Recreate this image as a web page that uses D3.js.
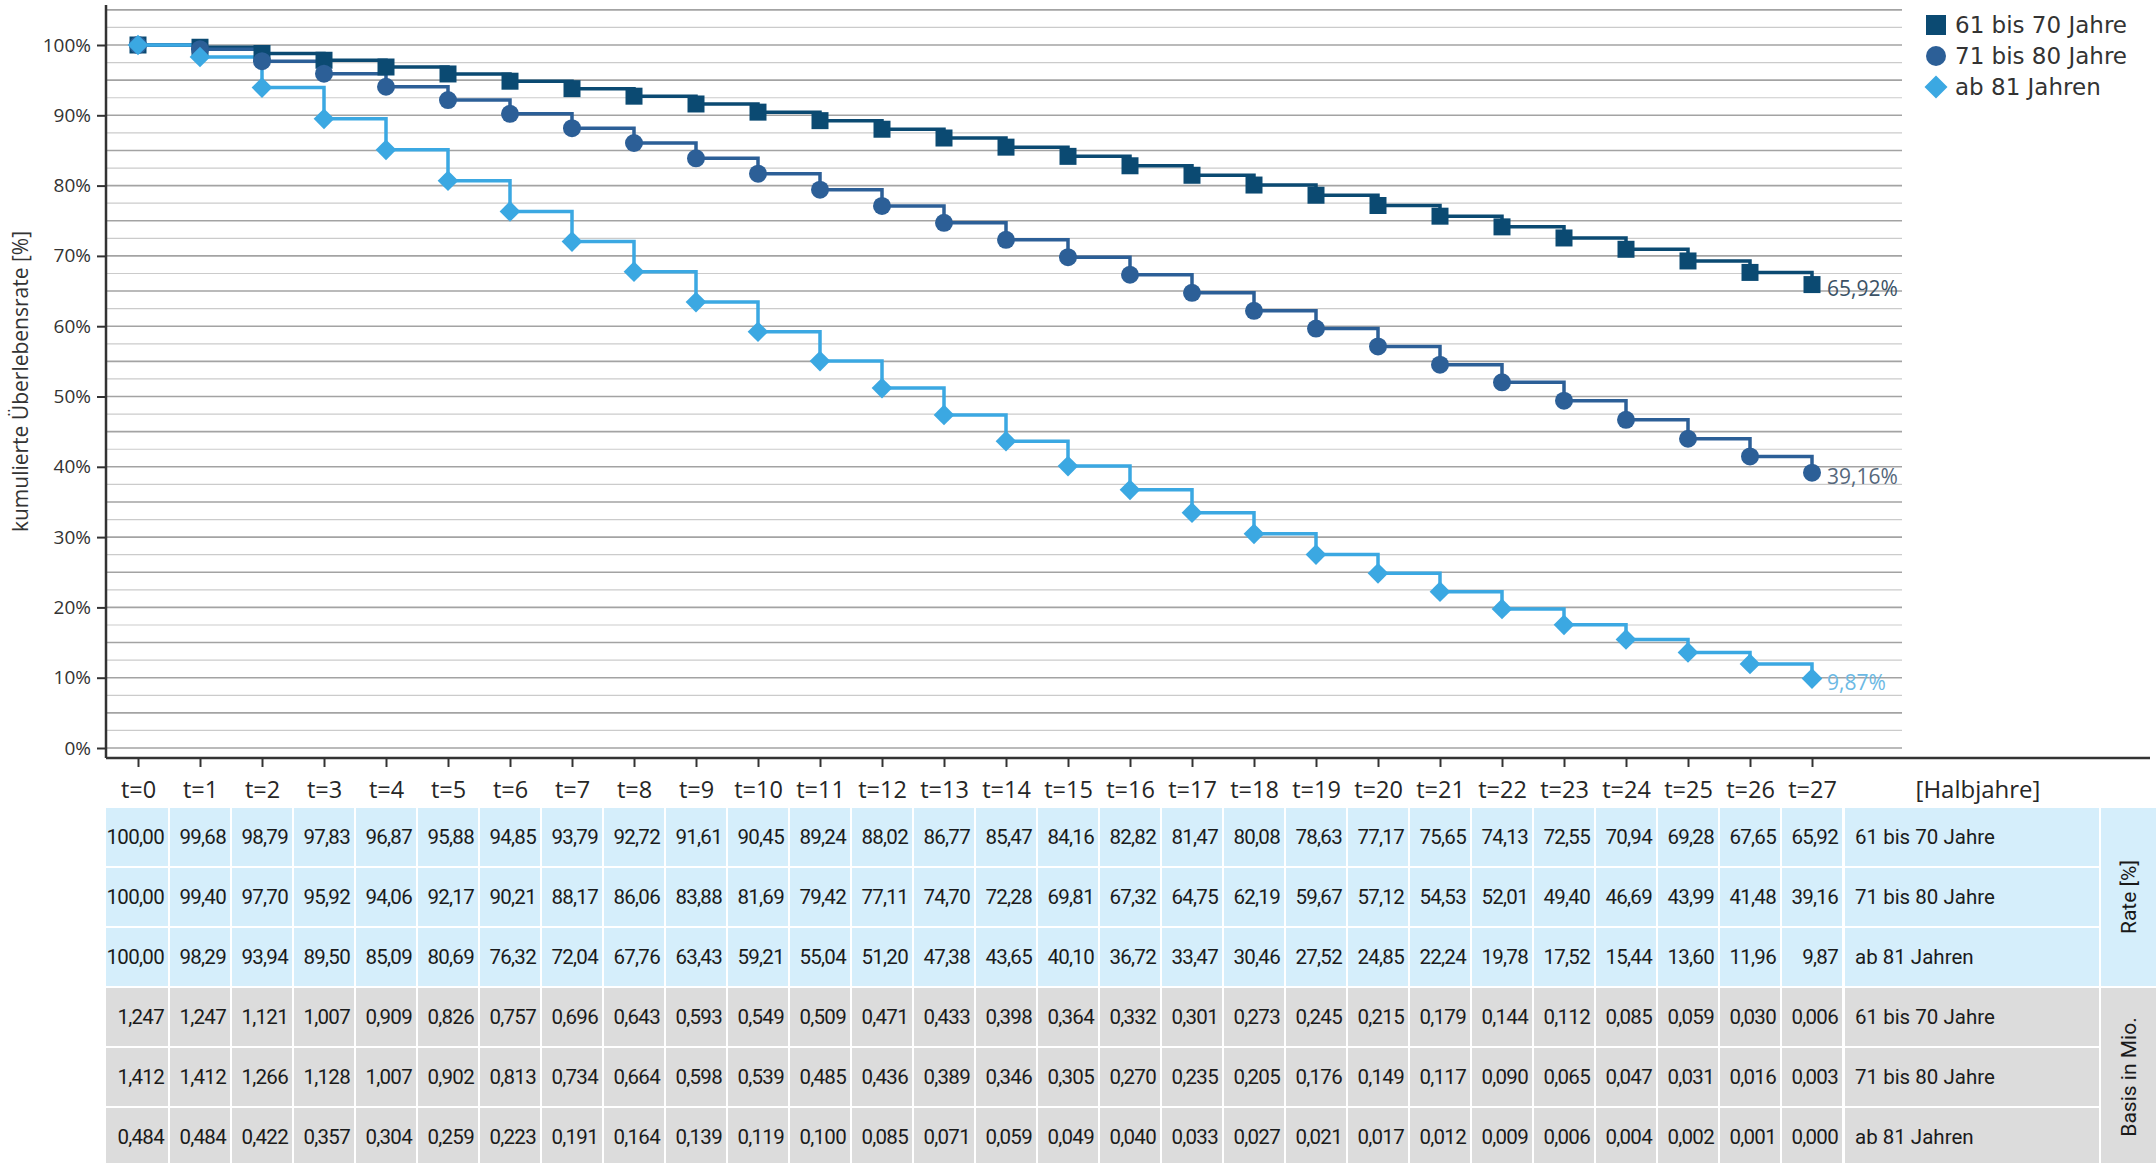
<!DOCTYPE html>
<html><head><meta charset="utf-8">
<script src="https://cdn.jsdelivr.net/npm/d3@7"></script>
<style>
html,body{margin:0;padding:0;background:#fff;}
svg{display:block;}
</style></head>
<body>
<script>
// ---------- DATA ----------
const tLabels = d3.range(0, 28).map(i => "t=" + i);
const seriesNames = ["61 bis 70 Jahre", "71 bis 80 Jahre", "ab 81 Jahren"];
const rate61 = [100.00,99.68,98.79,97.83,96.87,95.88,94.85,93.79,92.72,91.61,90.45,89.24,88.02,86.77,85.47,84.16,82.82,81.47,80.08,78.63,77.17,75.65,74.13,72.55,70.94,69.28,67.65,65.92];
const rate71 = [100.00,99.40,97.70,95.92,94.06,92.17,90.21,88.17,86.06,83.88,81.69,79.42,77.11,74.70,72.28,69.81,67.32,64.75,62.19,59.67,57.12,54.53,52.01,49.40,46.69,43.99,41.48,39.16];
const rate81 = [100.00,98.29,93.94,89.50,85.09,80.69,76.32,72.04,67.76,63.43,59.21,55.04,51.20,47.38,43.65,40.10,36.72,33.47,30.46,27.52,24.85,22.24,19.78,17.52,15.44,13.60,11.96,9.87];
const basis61 = [1.247,1.247,1.121,1.007,0.909,0.826,0.757,0.696,0.643,0.593,0.549,0.509,0.471,0.433,0.398,0.364,0.332,0.301,0.273,0.245,0.215,0.179,0.144,0.112,0.085,0.059,0.030,0.006];
const basis71 = [1.412,1.412,1.266,1.128,1.007,0.902,0.813,0.734,0.664,0.598,0.539,0.485,0.436,0.389,0.346,0.305,0.270,0.235,0.205,0.176,0.149,0.117,0.090,0.065,0.047,0.031,0.016,0.003];
const basis81 = [0.484,0.484,0.422,0.357,0.304,0.259,0.223,0.191,0.164,0.139,0.119,0.100,0.085,0.071,0.059,0.049,0.040,0.033,0.027,0.021,0.017,0.012,0.009,0.006,0.004,0.002,0.001,0.000];
const yTicks = [0,10,20,30,40,50,60,70,80,90,100];
const yAxisTitle = "kumulierte Überlebensrate [%]";
const xAxisUnit = "[Halbjahre]";
const groupLabels = ["Rate [%]", "Basis in Mio."];

// ---------- STYLE ----------
const colors = ["#0b4a72", "#2c5f97", "#3ba8e2"];
const labelColors = ["#3b5266", "#56687c", "#6cb9e4"];
const shapes = ["square", "circle", "diamond"];
const chartFont = "'Open Sans', 'DejaVu Sans', sans-serif";
const legendFont = "'DejaVu Sans', 'Open Sans', sans-serif";
const tableFont = "'Roboto', sans-serif";
const labelFont = "'Roboto', 'Open Sans', sans-serif";

const W = 2156, H = 1163;
const svg = d3.select("body").append("svg").attr("width", W).attr("height", H);

const x = d3.scaleLinear().domain([0, 27]).range([138, 1812]);
const y = d3.scaleLinear().domain([0, 100]).range([748, 45]);
const plotLeft = 106, plotRight = 1902, axisY = 758;

const loc = d3.formatLocale({decimal: ",", thousands: ".", grouping: [3], currency: ["", "€"]});
const f2 = loc.format(".2f"), f3 = loc.format(".3f");

// gridlines
const grid = svg.append("g");
grid.selectAll("line").data(d3.range(0, 105.01, 2.5)).join("line")
  .attr("x1", plotLeft).attr("x2", plotRight)
  .attr("y1", d => y(d)).attr("y2", d => y(d))
  .attr("stroke", d => (d % 5 === 0) ? "#a3a3a3" : "#cbcbcb")
  .attr("stroke-width", d => (d % 5 === 0) ? 1.6 : 1.2);

// y axis
const yAx = svg.append("g").attr("transform", `translate(${plotLeft},0)`)
  .call(d3.axisLeft(y).tickValues(yTicks).tickFormat(d => d + "%").tickSize(9).tickPadding(6));
yAx.select(".domain").remove();
yAx.selectAll(".tick line").attr("stroke", "#333").attr("stroke-width", 2);
yAx.selectAll(".tick text").attr("font-family", chartFont).attr("font-size", 19).attr("fill", "#333");
svg.append("line").attr("x1", plotLeft).attr("x2", plotLeft).attr("y1", 5).attr("y2", axisY)
  .attr("stroke", "#333").attr("stroke-width", 2.5);

svg.append("text").attr("transform", `translate(21,${(227+536)/2}) rotate(-90)`)
  .attr("text-anchor", "middle").attr("dy", "0.35em")
  .attr("font-family", chartFont).attr("font-size", 21).attr("fill", "#333").text(yAxisTitle);

// x axis
const xAx = svg.append("g").attr("transform", `translate(0,${axisY})`)
  .call(d3.axisBottom(x).tickValues(d3.range(0, 28)).tickFormat(i => tLabels[i]).tickSize(9));
xAx.select(".domain").remove();
xAx.selectAll(".tick line").attr("stroke", "#333").attr("stroke-width", 2);
xAx.selectAll(".tick text").attr("y", 32).attr("dy", "0.35em")
  .attr("font-family", chartFont).attr("font-size", 23.5).attr("fill", "#262626");
svg.append("line").attr("x1", plotLeft).attr("x2", 2150).attr("y1", axisY).attr("y2", axisY)
  .attr("stroke", "#333").attr("stroke-width", 2.5);
svg.append("text").attr("x", 1978).attr("y", axisY + 32).attr("dy", "0.35em").attr("text-anchor", "middle")
  .attr("font-family", chartFont).attr("font-size", 24).attr("fill", "#262626").text(xAxisUnit);

// series
const rates = [rate61, rate71, rate81];
const line = d3.line().x((d, i) => x(i)).y(d => y(d)).curve(d3.curveStepAfter);

function markerPath(shape, r) {
  if (shape === "square") return `M${-r},${-r}H${r}V${r}H${-r}Z`;
  if (shape === "circle") return `M${r},0A${r},${r} 0 1,1 ${-r},0A${r},${r} 0 1,1 ${r},0Z`;
  return `M0,${-r*1.15}L${r*1.15},0L0,${r*1.15}L${-r*1.15},0Z`;
}

rates.forEach((arr, s) => {
  svg.append("path").datum(arr).attr("d", line).attr("fill", "none")
    .attr("stroke", colors[s]).attr("stroke-width", 3.5);
});
rates.forEach((arr, s) => {
  svg.append("g").selectAll("path").data(arr).join("path")
    .attr("transform", (d, i) => `translate(${x(i)},${y(d)})`)
    .attr("d", markerPath(shapes[s], s === 0 ? 8.5 : 9))
    .attr("fill", colors[s]);
  const last = arr[arr.length - 1];
  svg.append("text").attr("x", x(arr.length - 1) + 15).attr("y", y(last) + 4).attr("dy", "0.35em")
    .attr("font-family", chartFont).attr("font-size", 21).attr("fill", labelColors[s])
    .text(f2(last) + "%");
});

// legend
const lg = svg.append("g");
seriesNames.forEach((n, s) => {
  const ly = 25 + s * 31;
  lg.append("path").attr("transform", `translate(1936,${ly})`).attr("d", markerPath(shapes[s], 10)).attr("fill", colors[s]);
  lg.append("text").attr("x", 1955).attr("y", ly).attr("dy", "0.36em")
    .attr("font-family", legendFont).attr("font-size", 23).attr("fill", "#333").text(n);
});

// table
const tableRows = [
  {vals: rate61, fmt: f2, bg: "#d5eefb", name: seriesNames[0]},
  {vals: rate71, fmt: f2, bg: "#d5eefb", name: seriesNames[1]},
  {vals: rate81, fmt: f2, bg: "#d5eefb", name: seriesNames[2]},
  {vals: basis61, fmt: f3, bg: "#dcdcdc", name: seriesNames[0]},
  {vals: basis71, fmt: f3, bg: "#dcdcdc", name: seriesNames[1]},
  {vals: basis81, fmt: f3, bg: "#dcdcdc", name: seriesNames[2]},
];
const rowTop = r => 808 + r * 60, rowH = 58;
const colL = i => i === 0 ? plotLeft : (x(i - 1) + x(i)) / 2 + 1;
const colR = i => i === 27 ? x(27) + 30 : (x(i) + x(i + 1)) / 2 - 1;
const labL = x(27) + 33, labR = 2099, grpL = 2101;

const tb = svg.append("g");
tableRows.forEach((row, r) => {
  const g = tb.append("g");
  g.selectAll("rect").data(row.vals).join("rect")
    .attr("x", (d, i) => colL(i)).attr("width", (d, i) => colR(i) - colL(i))
    .attr("y", rowTop(r)).attr("height", rowH).attr("fill", row.bg);
  g.selectAll("text").data(row.vals).join("text")
    .attr("x", (d, i) => colR(i) - 4).attr("y", rowTop(r) + rowH / 2).attr("dy", "0.35em")
    .attr("text-anchor", "end").attr("font-family", tableFont).attr("font-size", 20.5)
    .attr("letter-spacing", -0.7).attr("fill", "#1a1a1a")
    .text(d => row.fmt(d));
  g.append("rect").attr("x", labL).attr("width", labR - labL).attr("y", rowTop(r)).attr("height", rowH).attr("fill", row.bg);
  g.append("text").attr("x", labL + 10).attr("y", rowTop(r) + rowH / 2).attr("dy", "0.35em")
    .attr("font-family", labelFont).attr("font-size", 20.5).attr("fill", "#1a1a1a").text(row.name);
});
groupLabels.forEach((gl, k) => {
  const top = rowTop(k * 3), bottom = rowTop(k * 3 + 2) + rowH;
  tb.append("rect").attr("x", grpL).attr("width", W - grpL).attr("y", top).attr("height", bottom - top)
    .attr("fill", k === 0 ? "#d5eefb" : "#dcdcdc");
  tb.append("text").attr("transform", `translate(${(grpL + W) / 2},${(top + bottom) / 2}) rotate(-90)`)
    .attr("text-anchor", "middle").attr("dy", "0.35em")
    .attr("font-family", labelFont).attr("font-size", 21).attr("fill", "#1a1a1a").text(gl);
});
</script>
</body></html>
